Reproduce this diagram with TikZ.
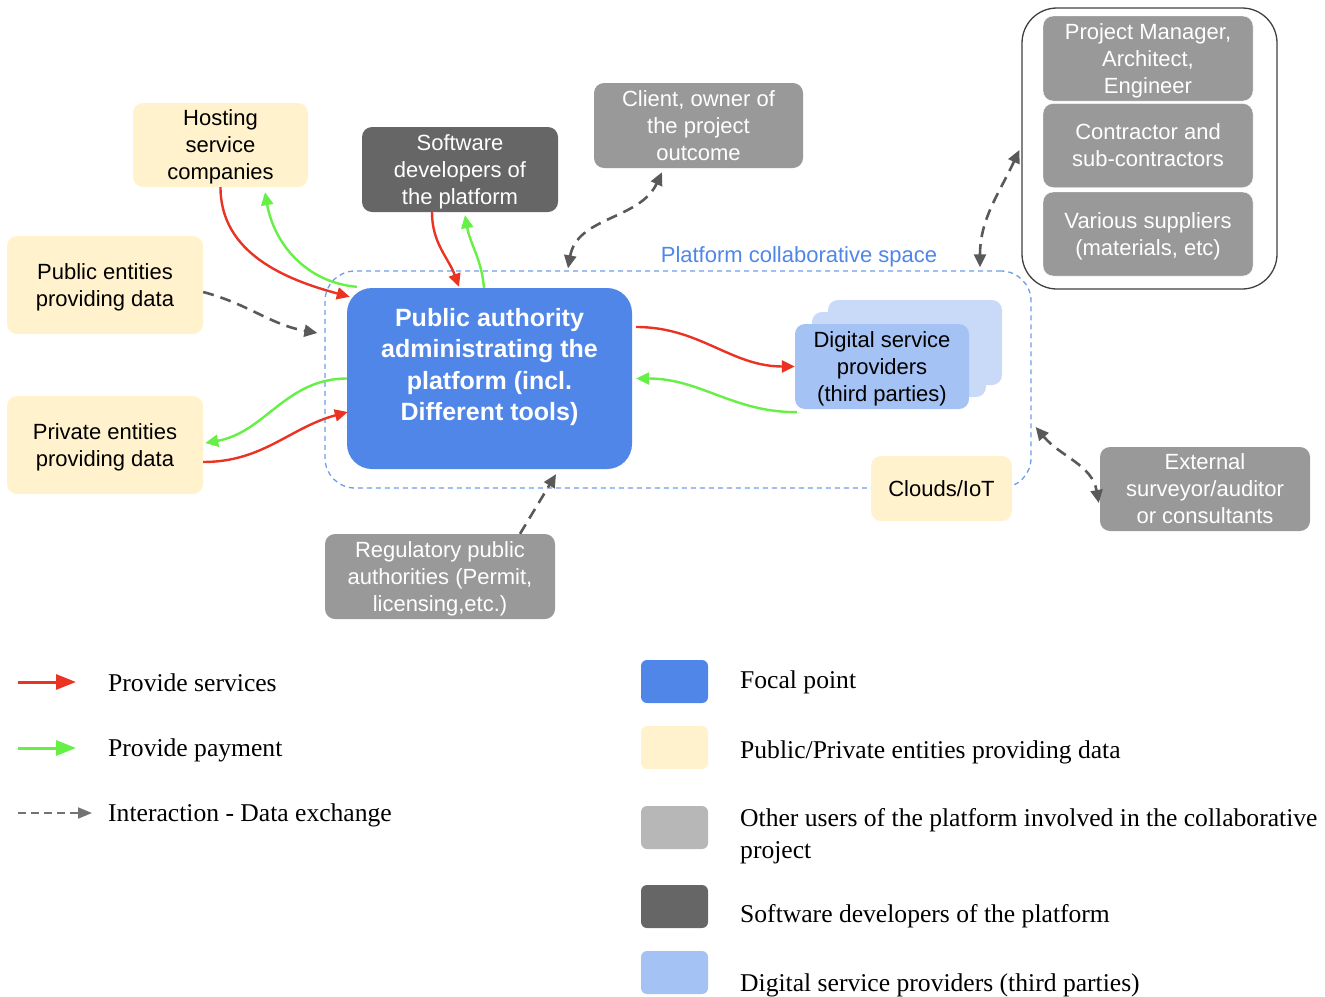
\documentclass[tikz,border=0pt]{standalone}
\usepackage{fontspec}
\setmainfont{Liberation Serif}
\setsansfont{Liberation Sans}
\usepackage{tikz}
\usetikzlibrary{arrows.meta}
\definecolor{focal}{HTML}{4F86E8}
\definecolor{entity}{HTML}{FFF2CC}
\definecolor{user}{HTML}{999999}
\definecolor{userkey}{HTML}{B7B7B7}
\definecolor{devel}{HTML}{666666}
\definecolor{third}{HTML}{A4C2F4}
\definecolor{thirdback}{HTML}{C9DAF8}
\definecolor{spaceblue}{HTML}{6D9EEB}
\definecolor{svc}{HTML}{EA3323}
\definecolor{pay}{HTML}{66F046}
\definecolor{xchg}{HTML}{595959}

\begin{document}
\begin{tikzpicture}[x=1pt,y=-1pt,
  box/.style={rounded corners=10pt,align=center,inner sep=0pt,text depth=0pt,font=\sffamily\fontsize{22}{27}\selectfont},
  entitybox/.style={box,fill=entity},
  userbox/.style={box,fill=user,text=white},
  devbox/.style={box,fill=devel,text=white},
  svcarrow/.style={draw=svc,line width=2.4pt,-{Triangle[length=13pt,width=12pt]}},
  payarrow/.style={draw=pay,line width=2.4pt,-{Triangle[length=13pt,width=12pt]}},
  xarrow/.style={draw=xchg,line width=2.6pt,dash pattern=on 11pt off 7pt,-{Triangle[length=13pt,width=12pt]}},
  xxarrow/.style={xarrow,{Triangle[length=13pt,width=12pt]}-{Triangle[length=13pt,width=12pt]}},
  keybox/.style={rounded corners=6pt,minimum width=67,minimum height=43,inner sep=0pt},
  keytext/.style={anchor=west,align=left,inner sep=0pt,font=\fontsize{25.6}{32}\selectfont}]
\useasboundingbox (0,0) rectangle (1325,996);

% collaborative space
\node[draw=spaceblue,line width=1.3pt,dash pattern=on 5pt off 4pt,rounded corners=30pt,
  minimum width=706,minimum height=217] (space) at (678,379.5) {};
\node[font=\sffamily\fontsize{22}{27}\selectfont,text=focal,inner sep=0pt] (spacelbl) at (799,257) {Platform collaborative space};

\node[entitybox,minimum width=175,minimum height=84] (host) at (220.5,145) {Hosting\\service\\companies};
\node[entitybox,minimum width=196,minimum height=98] (pub) at (105,285) {Public entities\\providing data};
\node[entitybox,minimum width=196,minimum height=98] (priv) at (105,445) {Private entities\\providing data};
\node[devbox,minimum width=196,minimum height=85] (dev) at (460,169.5) {Software\\developers of\\the platform};
\node[userbox,minimum width=209,minimum height=85] (client) at (698.5,125.5) {Client, owner of\\the project\\outcome};
\node[box,fill=focal,text=white,rounded corners=25pt,minimum width=285,minimum height=181,text depth=28pt,
  font=\sffamily\bfseries\fontsize{25}{31.5}\selectfont] (pa) at (489.5,378.5)
  {Public authority\\administrating the\\platform (incl.\\Different tools)};

% third parties, stacked
\node[box,fill=thirdback,minimum width=174,minimum height=85] (dsp3) at (915,342.5) {};
\node[box,fill=thirdback,minimum width=174,minimum height=85] (dsp2) at (899,354.5) {};
\node[box,fill=third,minimum width=174,minimum height=85] (dsp) at (882,366.5) {Digital service\\providers\\(third parties)};

\node[entitybox,minimum width=141,minimum height=65] (cloud) at (941.5,488.5) {Clouds/IoT};
\node[userbox,minimum width=230,minimum height=85] (reg) at (440,576.5) {Regulatory public\\authorities (Permit,\\licensing,etc.)};
\node[userbox,minimum width=210,minimum height=84] (ext) at (1205,489) {External\\surveyor/auditor\\or consultants};

% project team
\node[draw=black!75,line width=1.3pt,rounded corners=35pt,minimum width=255,minimum height=281] (team) at (1149.5,148.5) {};
\node[userbox,draw=white,minimum width=210,minimum height=85] (pm) at (1148,58.5) {Project Manager,\\Architect,\\Engineer};
\node[userbox,draw=white,minimum width=210,minimum height=84] (contr) at (1148,145.5) {Contractor and\\sub-contractors};
\node[userbox,draw=white,minimum width=210,minimum height=84] (suppl) at (1148,234) {Various suppliers\\(materials, etc)};

% services and payments
\draw[svcarrow] (host.south) to[out=-90,in=165] ([xshift=3,yshift=-9]pa.north west);
\draw[payarrow] ([xshift=10,yshift=1]pa.north west) to[out=175,in=-80] ([xshift=44.5,yshift=-5]host.south);
\draw[svcarrow] ([xshift=-28]dev.south) to[out=-90,in=110] ([xshift=-30.5,yshift=1]pa.north);
\draw[payarrow] ([xshift=-5.5]pa.north) to[out=95,in=-80] ([xshift=5,yshift=-3]dev.south);
\draw[payarrow] (pa.west) to[out=180,in=10] ([xshift=2,yshift=2]priv.east);
\draw[svcarrow] ([yshift=-17]priv.east) to[out=0,in=195] ([xshift=1,yshift=-33.5]pa.west);
\draw[svcarrow] ([xshift=4,yshift=51.5]pa.east) to[out=0,in=180] (dsp.west);
\draw[payarrow] ([xshift=2,yshift=-3]dsp.south west) to[out=180,in=0] ([xshift=4]pa.east);

% data exchange
\draw[xarrow] ([yshift=-7]pub.east) to[out=-15,in=170] ([xshift=-7,yshift=46.5]space.west);
\draw[xxarrow] ([xshift=-110,yshift=2]space.north) to[out=80,in=-115] ([xshift=-36.5,yshift=-4]client.south);
\draw[xxarrow] ([xshift=302,yshift=3]space.north) to[out=90,in=-115] ([xshift=-2,yshift=-1.5]team.west);
\draw[xxarrow] ([xshift=4,yshift=-47.5]space.east) to[out=-50,in=100] ([xshift=-1,yshift=-14]ext.west);
\draw[xarrow] ([xshift=80]reg.north) -- ([xshift=66.5,yshift=-5]pa.south);

% key
\node[keytext] (svclbl) at (108,683) {Provide services};
\node[keytext] (paylbl) at (108,750) {Provide payment};
\node[keytext] (xlbl) at (108,815) {Interaction - Data exchange};
\coordinate (svc0) at (18,682);
\coordinate (pay0) at (18,748);
\coordinate (x0) at (18,813);
\draw[draw=svc,line width=3pt,-{Triangle[length=20pt,width=15pt]}] (svc0) -- ([xshift=-32,yshift=1]svclbl.west);
\draw[draw=pay,line width=3pt,-{Triangle[length=20pt,width=15pt]}] (pay0) -- ([xshift=-32,yshift=2]paylbl.west);
\draw[draw=black!55,line width=2pt,dash pattern=on 8pt off 5pt,-{Triangle[length=14pt,width=11pt]}] (x0) -- ([xshift=-16,yshift=2]xlbl.west);

\node[keybox,fill=focal] (k1) at (674.5,681.5) {};
\node[keybox,fill=entity] (k2) at (674.5,747.5) {};
\node[keybox,fill=userkey] (k3) at (674.5,827.5) {};
\node[keybox,fill=devel] (k4) at (674.5,906.5) {};
\node[keybox,fill=third] (k5) at (674.5,972.5) {};
\node[keytext] (k1lbl) at (740,682) {Focal point};
\node[keytext] (k2lbl) at (740,752) {Public/Private entities providing data};
\node[keytext] (k3lbl) at (740,836) {Other users of the platform involved in the collaborative\\project};
\node[keytext] (k4lbl) at (740,916) {Software developers of the platform};
\node[keytext] (k5lbl) at (740,985) {Digital service providers (third parties)};
\end{tikzpicture}
\end{document}
